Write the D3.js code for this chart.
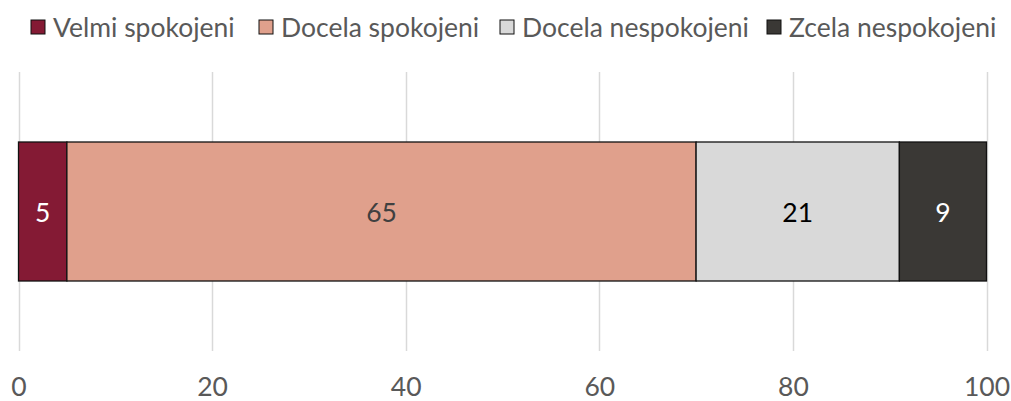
<!DOCTYPE html>
<html>
<head>
<meta charset="utf-8">
<script src="https://cdn.jsdelivr.net/npm/d3@7"></script>
<style>
  html, body { margin: 0; padding: 0; background: #fff; }
  svg { display: block; font-family: Lato, "Open Sans", sans-serif; }
</style>
</head>
<body>
<svg id="chart" width="1011" height="401"></svg>
<script>
// Satisfaction shares (percent), one stacked bar
const categories = ["Velmi spokojeni", "Docela spokojeni", "Docela nespokojeni", "Zcela nespokojeni"];
const values = [5, 65, 21, 9];
const colors = ["#841A34", "#E0A08C", "#D9D9D9", "#3A3835"];
const labelColors = ["#FFFFFF", "#404040", "#000000", "#FFFFFF"];
const tickValues = [0, 20, 40, 60, 80, 100];

const svg = d3.select("#chart");
const fontSize = 26.5;

const x = d3.scaleLinear().domain([0, 100]).range([18.5, 986.5]);

// Vertical gridlines
svg.append("g")
  .selectAll("line")
  .data(tickValues)
  .join("line")
  .attr("x1", d => Math.round(x(d)) + 0.5)
  .attr("x2", d => Math.round(x(d)) + 0.5)
  .attr("y1", 72)
  .attr("y2", 351)
  .attr("stroke", "#D9D9D9")
  .attr("stroke-width", 1.5);

// Stack the segments
let acc = 0;
const segs = values.map((v, i) => {
  const s = { i, v, x0: acc, x1: acc + v };
  acc += v;
  return s;
});

const bars = svg.append("g");
bars.selectAll("rect")
  .data(segs)
  .join("rect")
  .attr("x", d => x(d.x0))
  .attr("width", d => x(d.x1) - x(d.x0))
  .attr("y", 142)
  .attr("height", 139)
  .attr("fill", d => colors[d.i])
  .attr("stroke", "#111")
  .attr("stroke-width", 1.3);

bars.selectAll("text")
  .data(segs)
  .join("text")
  .attr("x", d => (x(d.x0) + x(d.x1)) / 2)
  .attr("y", 213)
  .attr("dy", "0.35em")
  .attr("text-anchor", "middle")
  .attr("font-size", fontSize)
  .attr("fill", d => labelColors[d.i])
  .text(d => d.v);

// Bottom axis labels
const axis = d3.axisBottom(x).tickValues(tickValues).tickSize(0).tickPadding(0);
const ag = svg.append("g").attr("transform", "translate(0,387)").call(axis);
ag.select(".domain").remove();
ag.selectAll("text")
  .attr("font-size", fontSize)
  .attr("font-family", "Lato, 'Open Sans', sans-serif")
  .attr("fill", "#595959")
  .attr("dy", "0.35em")
  .attr("y", 0);

// Legend
const legendX = [31, 259, 500, 767];
const lg = svg.append("g");
const items = lg.selectAll("g")
  .data(categories)
  .join("g")
  .attr("transform", (d, i) => `translate(${legendX[i]},20)`);
items.append("rect")
  .attr("width", 14)
  .attr("height", 14)
  .attr("fill", (d, i) => colors[i])
  .attr("stroke", "#111")
  .attr("stroke-width", 1);
items.append("text")
  .attr("x", 22)
  .attr("y", 8)
  .attr("dy", "0.35em")
  .attr("font-size", fontSize)
  .attr("fill", "#595959")
  .text(d => d);
</script>
</body>
</html>
